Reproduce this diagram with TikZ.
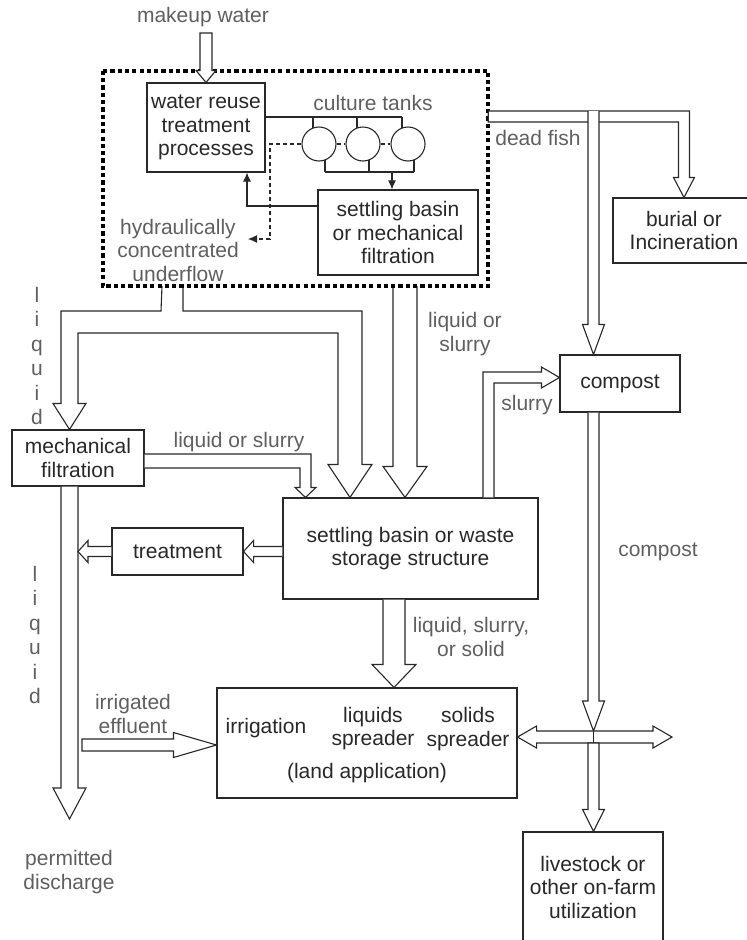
\documentclass[tikz,border=0pt]{standalone}
\usepackage{fontspec}
\setmainfont{Liberation Sans}
\usetikzlibrary{calc,positioning,arrows.meta}

\definecolor{inkc}{RGB}{40,40,40}
\definecolor{lblc}{RGB}{95,95,95}

% hollow block arrows: [closing], start, tip, shaft half width, head half width, head length
\newcommand{\blkdown}[6][]{\draw[blk] ($(#2)+(-#4,0)$) -- ($(#2 |- #3)+(-#4,-#6)$) -- ($(#2 |- #3)+(-#5,-#6)$) -- (#3) -- ($(#2 |- #3)+(#5,-#6)$) -- ($(#2 |- #3)+(#4,-#6)$) -- ($(#2)+(#4,0)$) #1;}
\newcommand{\blkright}[6][]{\draw[blk] ($(#2)+(0,-#4)$) -- ($(#2 -| #3)+(-#6,-#4)$) -- ($(#2 -| #3)+(-#6,-#5)$) -- (#3) -- ($(#2 -| #3)+(-#6,#5)$) -- ($(#2 -| #3)+(-#6,#4)$) -- ($(#2)+(0,#4)$) #1;}
\newcommand{\blkleft}[6][]{\draw[blk] ($(#2)+(0,-#4)$) -- ($(#2 -| #3)+(#6,-#4)$) -- ($(#2 -| #3)+(#6,-#5)$) -- (#3) -- ($(#2 -| #3)+(#6,#5)$) -- ($(#2 -| #3)+(#6,#4)$) -- ($(#2)+(0,#4)$) #1;}

\begin{document}
\begin{tikzpicture}[x=1pt, y=-1pt,
    box/.style={draw=inkc, line width=1.1pt, text=inkc, align=center, inner sep=0pt, font=\fontsize{21}{23.5}\selectfont},
    txt/.style={text=inkc, align=center, inner sep=0pt, font=\fontsize{21}{23.5}\selectfont},
    lbl/.style={text=lblc, align=center, inner sep=0pt, font=\fontsize{21}{23.5}\selectfont},
    tank/.style={circle, draw=inkc, line width=1.1pt, minimum size=34pt, inner sep=0pt},
    flow/.style={draw=inkc, line width=1.1pt},
    blk/.style={draw=inkc, fill=white, line width=1.1pt, line join=miter},
    dotbox/.style={draw=black, line width=4.2pt, dash pattern=on 4.2pt off 3.1pt}]
    \useasboundingbox (0,0) rectangle (747,940);
    \clip (0,0) rectangle (747,940);

    \node[minimum width=385pt, minimum height=215pt, inner sep=0pt] (loop) at (295.5,178.5) {};
    \node[box, minimum width=118pt, minimum height=89pt] (wr) at (206,127.5) {water reuse\\treatment\\processes};
    \node[box, minimum width=160pt, minimum height=85pt] (sb1) at (398,232.5) {settling basin\\or mechanical\\filtration};
    \node[tank] (c1) at (319,144) {};
    \node[tank] (c2) at (363,144) {};
    \node[tank] (c3) at (408,144) {};
    \node[box, minimum width=142pt, minimum height=65pt] (burial) at (684,230.5) {burial or\\Incineration};
    \node[box, minimum width=120pt, minimum height=57pt] (compost) at (620,383.5) {compost};
    \node[box, minimum width=132pt, minimum height=56pt] (mf) at (78,458) {mechanical\\filtration};
    \node[box, minimum width=255pt, minimum height=101pt] (sb2) at (410.5,548.5) {settling basin or waste\\storage structure};
    \node[box, minimum width=131pt, minimum height=47pt] (tr) at (177.5,551.5) {treatment};
    \node[box, minimum width=300pt, minimum height=110pt] (la) at (367,743) {};
    \node[box, minimum width=140pt, minimum height=110pt] (ls) at (593,887) {livestock or\\other on-farm\\utilization};

    \node[txt] (irr) at (266,728) {irrigation};
    \node[txt] (liqs) at (373,728.5) {liquids\\spreader};
    \node[txt] (sols) at (468,729) {solids\\spreader};
    \node[txt] (landapp) at (367,773) {(land application)};

    \node[lbl] (mw) at (203,17) {makeup water};
    \node[lbl] (ct) at (373,103) {culture tanks};
    \node[lbl] (hcu) at (178,250) {hydraulically\\concentrated\\underflow};
    \node[lbl] (dfl) at (538,138) {dead fish};
    \node[lbl, font=\fontsize{21}{24.5}\selectfont] (liq1) at (37,356) {l\\i\\q\\u\\i\\d};
    \node[lbl] (los1) at (239,442) {liquid or slurry};
    \node[lbl] (los2) at (465,334) {liquid or\\slurry};
    \node[lbl] (sl) at (527,405) {slurry};
    \node[lbl] (cpl) at (658,552) {compost};
    \node[lbl] (lss) at (471,637) {liquid, slurry,\\or solid};
    \node[lbl, font=\fontsize{21}{24.5}\selectfont] (liq2) at (35,635) {l\\i\\q\\u\\i\\d};
    \node[lbl] (ie) at (133,714) {irrigated\\effluent};
    \node[lbl] (pd) at (69,872) {permitted\\discharge};

    % inside the recirculating loop
    \coordinate (hdr) at (0,117);
    \coordinate (cl) at (0,172);
    \draw[flow] (wr.east |- hdr) -- (c3.110 |- hdr);
    \foreach \c in {c1,c2,c3} {
        \draw[flow] (\c.110) -- (\c.110 |- hdr);
        \draw[flow] (\c.-70) -- (\c.-70 |- cl);
    }
    \draw[flow] (c1.-70 |- cl) -- (c3.-70 |- cl);
    \draw[flow,-{Latex[length=9pt,width=8pt]}] (392,0 |- cl) -- (392,0 |- sb1.north);
    \draw[flow,-{Latex[length=9pt,width=8pt]}] (sb1.west |- 0,206) -| (247,0 |- wr.south);
    \draw[flow,dash pattern=on 4pt off 3pt] (c1.east) -- (c2.west) (c2.east) -- (c3.west);
    \draw[flow,dash pattern=on 4pt off 3pt,-{Latex[length=9pt,width=8pt]}] (c1.west) -| (270,239) -- (248,239);

    % out of the loop, bottom
    \coordinate (stub) at (loop.south -| 172.5,0);
    \coordinate (mfin) at (69.5,0 |- mf.north);
    \coordinate (sbin) at (350,0 |- sb2.north);
    \draw[blk] ($(stub)+(-10.5,0)$) -- (161,311) -| ($(mfin)+(-8.5,-26)$) -- ++(-8,0) -- (mfin) -- ++(16.5,-26) -- ++(-8,0)
        |- (338,333) -- ($(sbin)+(-12,-33)$) -- ++(-10,0) -- (sbin) -- ++(22,-33) -- ++(-10,0) -- (362,311) -- (183,311) -- ($(stub)+(10.5,0)$);
    \coordinate (lsout) at (loop.south -| 405,0);
    \coordinate (lsin) at (405,0 |- sb2.north);
    \blkdown{lsout}{lsin}{12}{22}{31}
    \draw[dotbox] (loop.north west) rectangle (loop.south east);

    \coordinate (mwtop) at (wr.north |- 0,33);
    \blkdown[-- cycle]{mwtop}{wr.north}{6}{10}{12}

    % dead fish
    \draw[blk] (loop.east |- 0,122) -- (loop.east |- 0,111) -| ($(burial.north)+(5.5,-20)$) -- ++(5,0) -- (burial.north)
        -- ++(-10.5,-20) -- ++(5,0) |- (loop.east |- 0,122) -- cycle;
    \coordinate (cpin) at (593.5,111);
    \coordinate (cptip) at (cpin |- compost.north);
    \blkdown{cpin}{cptip}{5.5}{11}{30}

    % compost to the crossing
    \coordinate (cpout) at (cpin |- compost.south);
    \coordinate (hub) at (593.5,737);
    \coordinate (hubtop) at ($(hub)+(0,-6)$);
    \coordinate (hubbot) at ($(hub)+(0,6)$);
    \coordinate (lstip) at (hub |- ls.north);
    \blkdown{cpout}{hubtop}{5.5}{11}{30}
    \draw[blk] (la.east |- hub) -- ++(19,-11) -- ++(0,5) -- ($(hub)+(59.5,-6)$) -- ++(0,-5) -- ++(19,11) -- ++(-19,11) -- ++(0,-5)
        -- ($(la.east |- hub)+(19,6)$) -- ++(0,5) -- cycle;
    \draw[flow] (hubtop) -- (hubbot);
    \blkdown[-- cycle]{hubbot}{lstip}{5.5}{11}{22}

    % settling basin and waste storage
    \coordinate (mfsb) at (305.5,0 |- sb2.north);
    \draw[blk] (mf.east |- 0,454) -| ($(mfsb)+(5.5,-10)$) -- ++(5,0) -- (mfsb) -- ++(-10.5,-10) -- ++(5,0) |- (mf.east |- 0,468);
    \coordinate (slout) at (488.5,0 |- sb2.north);
    \coordinate (slin) at (compost.west |- 0,377.5);
    \draw[blk] ($(slout)+(-5.5,0)$) |- ($(slin)+(-18,-5.5)$) -- ++(0,-5) -- (slin) -- ++(-18,10.5) -- ++(0,-5) -| ($(slout)+(5.5,0)$);

    \coordinate (mfout) at (69.5,0 |- mf.south);
    \coordinate (pdtip) at (69.5,819);
    \blkdown{mfout}{pdtip}{8.5}{16.5}{31}
    \coordinate (sbtr) at (sb2.west |- tr.east);
    \blkleft{sbtr}{tr.east}{5}{11}{10}
    \coordinate (liqin) at (78,0 |- tr.west);
    \blkleft{tr.west}{liqin}{5}{11}{10}

    \coordinate (sbout) at (394,0 |- sb2.south);
    \coordinate (lain) at (394,0 |- la.north);
    \blkdown{sbout}{lain}{11}{22}{23}
    \coordinate (ieout) at (82,745);
    \coordinate (iein) at (la.west |- ieout);
    \blkright[-- cycle]{ieout}{iein}{6}{12.5}{43}
\end{tikzpicture}
\end{document}
